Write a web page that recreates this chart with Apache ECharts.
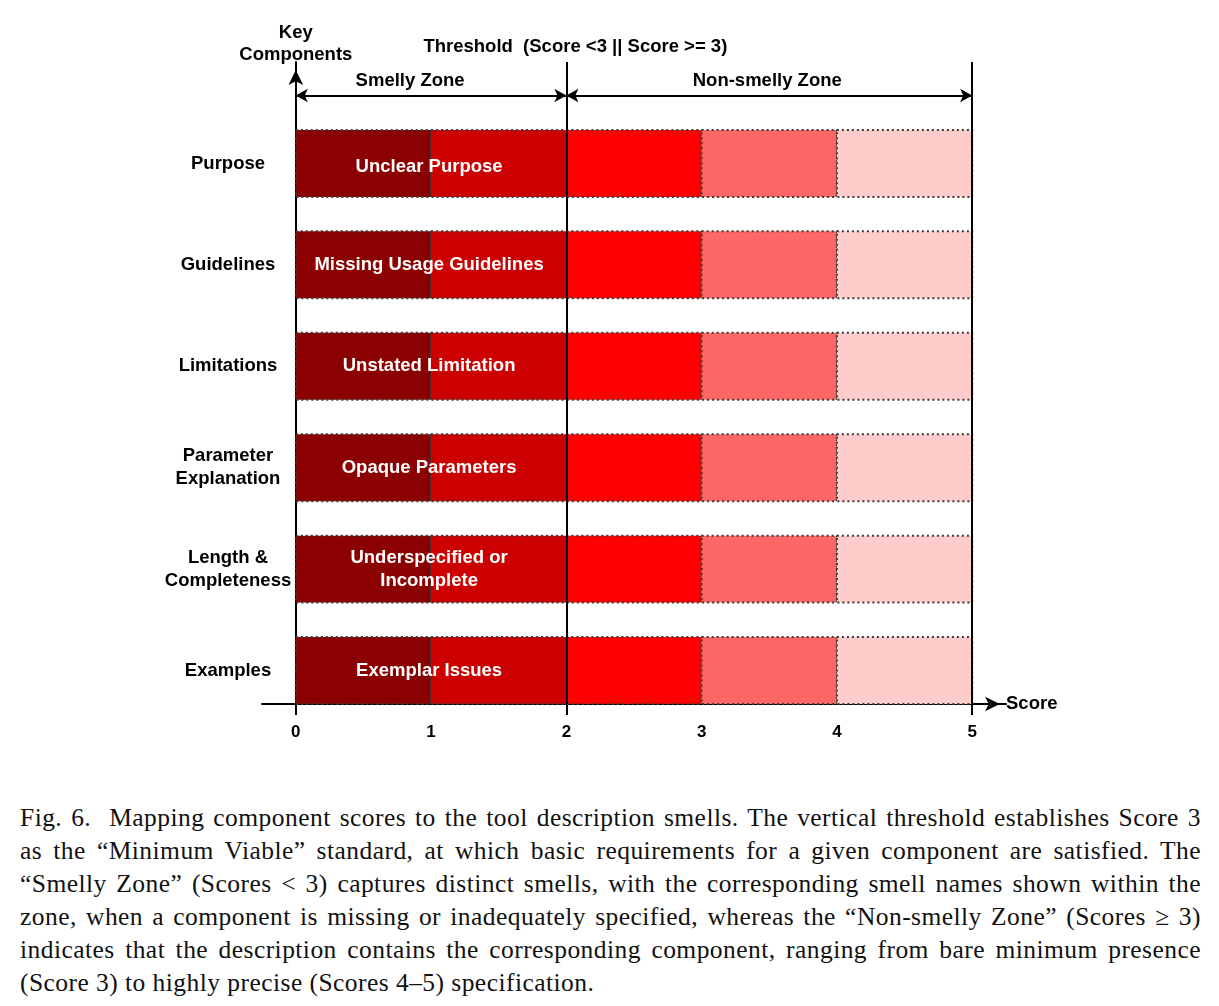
<!DOCTYPE html>
<html>
<head>
<meta charset="utf-8">
<script src="https://cdn.jsdelivr.net/npm/echarts@6/dist/echarts.min.js"></script>
<style>
  body { margin: 0; background: #fff; }
  #chart { position: absolute; left: 0; top: 0; width: 1219px; height: 780px; }
  .caption {
    position: absolute; left: 20px; top: 801px; width: 1181px;
    font-family: "Liberation Serif", "DejaVu Serif", serif;
    font-size: 25.5px; letter-spacing: 0.45px; line-height: 33px; color: #111;
  }
  .caption div { text-align: justify; text-align-last: justify; white-space: nowrap; }
  .caption div.last { text-align-last: left; }
</style>
</head>
<body>
<div id="chart"></div>
<div class="caption">
  <div>Fig. 6.&nbsp; Mapping component scores to the tool description smells. The vertical threshold establishes Score 3</div>
  <div>as the “Minimum Viable” standard, at which basic requirements for a given component are satisfied. The</div>
  <div>“Smelly Zone” (Scores &lt; 3) captures distinct smells, with the corresponding smell names shown within the</div>
  <div>zone, when a component is missing or inadequately specified, whereas the “Non-smelly Zone” (Scores ≥ 3)</div>
  <div>indicates that the description contains the corresponding component, ranging from bare minimum presence</div>
  <div class="last">(Score 3) to highly precise (Scores 4–5) specification.</div>
</div>
<script>
// components, top to bottom
const components = ['Purpose', 'Guidelines', 'Limitations', 'Parameter\nExplanation', 'Length &\nCompleteness', 'Examples']
const smells = ['Unclear Purpose', 'Missing Usage Guidelines', 'Unstated Limitation', 'Opaque Parameters', 'Underspecified or\nIncomplete', 'Exemplar Issues']
const scoreBands = [0, 1, 2, 3, 4, 5]
const bandColors = ['#8b0000', '#cc0000', '#ff0000', '#ff6666', '#ffcccc']
const scoreTicks = [0, 1, 2, 3, 4, 5]
const smellScore = 1
const threshold = 2
const zoneNames = ['Smelly Zone', 'Non-smelly Zone']
const zoneFrom = [0, 2]
const zoneTo = [2, 5]

const HALF = 0.33
const ARROW_Y = 5.67
const FONT = '"Liberation Sans", Arial, sans-serif'
const FS = 18.5

const rowOf = i => components.length - 1 - i

let barData = []
let labelData = []
components.forEach((c, i) => {
  for (let j = 0; j < bandColors.length; j++) {
    barData.push([scoreBands[j], scoreBands[j + 1], rowOf(i), j])
  }
  labelData.push([smellScore, rowOf(i)])
})

const chart = echarts.init(document.getElementById('chart'))
chart.setOption({
  animation: false,
  grid: { left: 262, right: 213, top: 62, bottom: 76 },
  xAxis: [{
    type: 'value',
    min: -0.25,
    max: 5.25,
    name: 'Score',
    nameLocation: 'end',
    nameGap: 0,
    nameTextStyle: { color: '#000', fontWeight: 'bold', fontSize: FS, fontFamily: FONT },
    axisLine: {
      onZero: false,
      symbol: ['none', 'arrow'],
      symbolSize: [11, 15],
      symbolOffset: [0, -6],
      lineStyle: { color: '#000', width: 2 }
    },
    axisTick: { show: true, customValues: [0, 2, 5], length: 11, lineStyle: { color: '#000', width: 2 } },
    axisLabel: {
      customValues: scoreTicks,
      margin: 20,
      color: '#000',
      fontWeight: 'bold',
      fontSize: 17,
      fontFamily: FONT
    },
    splitLine: { show: false }
  }, {
    type: 'value',
    min: -0.25,
    max: 5.25,
    position: 'bottom',
    axisLine: { show: false },
    axisTick: { show: true, customValues: [1, 4], length: 10, lineStyle: { color: '#222', width: 2, type: [2, 6] } },
    axisLabel: { show: false },
    splitLine: { show: false }
  }],
  yAxis: {
    type: 'value',
    min: -HALF,
    max: 6.0,
    name: 'Key\nComponents',
    nameLocation: 'end',
    nameGap: -4,
    nameTextStyle: { color: '#000', fontWeight: 'bold', fontSize: FS, fontFamily: FONT, lineHeight: 22, align: 'center' },
    axisLine: {
      onZero: true,
      symbol: ['none', 'arrow'],
      symbolSize: [11, 15],
      symbolOffset: [0, -8],
      lineStyle: { color: '#000', width: 2 }
    },
    axisTick: { show: false },
    axisLabel: {
      customValues: components.map((c, i) => rowOf(i)),
      formatter: v => components[rowOf(Math.round(v))],
      margin: 34,
      align: 'center',
      color: '#000',
      fontWeight: 'bold',
      fontSize: FS,
      lineHeight: 23,
      fontFamily: FONT
    },
    splitLine: { show: false }
  },
  series: [{
    type: 'custom',
    z: 1,
    data: [],
    renderItem: () => null,
    markLine: {
      silent: true,
      animation: false,
      symbol: ['none', 'none'],
      lineStyle: { color: '#000', width: 2, type: 'solid' },
      label: { color: '#000', fontWeight: 'bold', fontSize: FS, fontFamily: FONT },
      data: [
        {
          xAxis: threshold,
          label: { show: true, position: 'end', distance: 6, offset: [9, 0], formatter: 'Threshold  (Score <3 || Score >= 3)' }
        },
        { xAxis: scoreBands[scoreBands.length - 1], label: { show: false } }
      ].concat(zoneNames.map((n, k) => [
        {
          coord: [zoneFrom[k], ARROW_Y], symbol: 'arrow', symbolSize: [10, 12],
          label: { show: true, position: 'insideMiddleTop', distance: 5, offset: [k === 0 ? -21 : -2, 0], formatter: n }
        },
        { coord: [zoneTo[k], ARROW_Y], symbol: 'arrow', symbolSize: [10, 12] }
      ]))
    }
  }, {
    type: 'custom',
    z: 3,
    data: barData,
    encode: { x: [0, 1], y: 2 },
    renderItem: (params, api) => {
      const p0 = api.coord([api.value(0), api.value(2) + HALF])
      const p1 = api.coord([api.value(1), api.value(2) - HALF])
      return {
        type: 'rect',
        shape: { x: p0[0], y: p0[1], width: p1[0] - p0[0], height: p1[1] - p0[1] },
        style: { fill: bandColors[api.value(3)], stroke: '#3a3a3a', lineWidth: 2, lineDash: [2, 3] }
      }
    }
  }, {
    type: 'custom',
    z: 4,
    data: labelData,
    encode: { x: 0, y: 1 },
    renderItem: (params, api) => {
      const p = api.coord([api.value(0), api.value(1)])
      return {
        type: 'text',
        x: p[0] - 2,
        y: p[1] + (params.dataIndex === 0 ? 3 : 0),
        style: {
          text: smells[params.dataIndex],
          fill: '#fff',
          fontWeight: 'bold',
          fontSize: FS,
          fontFamily: FONT,
          lineHeight: 23,
          align: 'center',
          verticalAlign: 'middle'
        }
      }
    }
  }]
})
</script>
</body>
</html>
